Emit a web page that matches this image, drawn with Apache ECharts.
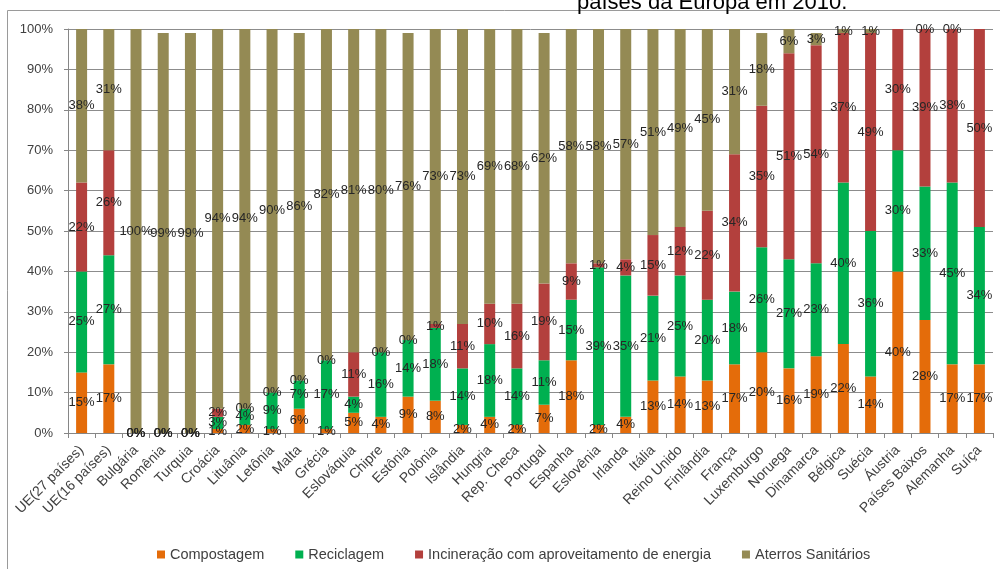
<!DOCTYPE html>
<html>
<head>
<meta charset="utf-8">
<script src="https://cdn.jsdelivr.net/npm/echarts@6/dist/echarts.min.js"></script>
<style>
  html, body { margin: 0; padding: 0; background: #fff; }
  #chart { width: 1000px; height: 569px; }
</style>
</head>
<body>
<div id="chart"></div>
<script>
// Destino dos resíduos urbanos por país (% do total)
const paises = [
  'UE(27 países)', 'UE(16 países)', 'Bulgária', 'Romênia', 'Turquia', 'Croácia',
  'Lituânia', 'Letônia', 'Malta', 'Grécia', 'Eslováquia', 'Chipre', 'Estônia',
  'Polônia', 'Islândia', 'Hungria', 'Rep. Checa', 'Portugal', 'Espanha',
  'Eslovênia', 'Irlanda', 'Itália', 'Reino Unido', 'Finlândia', 'França',
  'Luxemburgo', 'Noruega', 'Dinamarca', 'Bélgica', 'Suécia', 'Áustria',
  'Países Baixos', 'Alemanha', 'Suíça'
];
const compostagem = [15, 17, 0, 0, 0, 1, 2, 1, 6, 1, 5, 4, 9, 8, 2, 4, 2, 7, 18, 2, 4, 13, 14, 13, 17, 20, 16, 19, 22, 14, 40, 28, 17, 17];
const reciclagem  = [25, 27, 0, 0, 0, 3, 4, 9, 7, 17, 4, 16, 14, 18, 14, 18, 14, 11, 15, 39, 35, 21, 25, 20, 18, 26, 27, 23, 40, 36, 30, 33, 45, 34];
const incineracao = [22, 26, 0, 0, 0, 2, 0, 0, 0, 0, 11, 0, 0, 1, 11, 10, 16, 19, 9, 1, 4, 15, 12, 22, 34, 35, 51, 54, 37, 49, 30, 39, 38, 50];
const aterros     = [38, 31, 100, 99, 99, 94, 94, 90, 86, 82, 81, 80, 76, 73, 73, 69, 68, 62, 58, 58, 57, 51, 49, 45, 31, 18, 6, 3, 1, 1, null, 0, 0, null];
const yTicks = [0, 10, 20, 30, 40, 50, 60, 70, 80, 90, 100];

const FONT = 'Liberation Sans, Arial, sans-serif';
const TXT = '#404040';

function serie(nome, dados, cor) {
  return {
    name: nome,
    type: 'bar',
    stack: 'total',
    barWidth: 11,
    data: dados,
    itemStyle: { color: cor },
    label: {
      show: true,
      position: 'inside',
      formatter: p => (p.value == null ? '' : p.value + '%'),
      color: '#262626',
      fontFamily: FONT,
      fontSize: 13
    },
    emphasis: { disabled: true }
  };
}

const chart = echarts.init(document.getElementById('chart'), null, { renderer: 'canvas' });
chart.setOption({
  animation: false,
  backgroundColor: '#ffffff',
  title: {
    text: 'países da Europa em 2010.',
    left: 572,
    top: -13,
    textStyle: { fontFamily: FONT, fontSize: 22, fontWeight: 'normal', color: '#000' }
  },
  graphic: [{
    type: 'rect',
    shape: { x: 7.5, y: 10.5, width: 1010, height: 600 },
    style: { fill: 'none', stroke: '#9a9a9a', lineWidth: 1 },
    silent: true
  }],
  grid: { left: 68, right: 7, top: 29, bottom: 136 },
  legend: {
    top: 542,
    left: 152,
    itemWidth: 8,
    itemHeight: 8,
    itemGap: 31,
    icon: 'rect',
    textStyle: { fontFamily: FONT, fontSize: 14.5, color: TXT },
    data: ['Compostagem', 'Reciclagem', 'Incineração com aproveitamento de energia', 'Aterros Sanitários']
  },
  xAxis: {
    type: 'category',
    data: paises,
    boundaryGap: true,
    axisLine: { show: true, lineStyle: { color: '#868686' } },
    axisTick: { show: true, length: 5, alignWithLabel: false, lineStyle: { color: '#868686' } },
    axisLabel: {
      interval: 0,
      rotate: 45,
      margin: 15,
      fontFamily: FONT,
      fontSize: 14,
      color: TXT
    }
  },
  yAxis: {
    type: 'value',
    min: yTicks[0],
    max: yTicks[yTicks.length - 1],
    interval: 10,
    axisLine: { show: true, lineStyle: { color: '#868686' } },
    axisTick: { show: true, length: 4, lineStyle: { color: '#868686' } },
    splitLine: { show: true, lineStyle: { color: '#8c8c8c', width: 1 } },
    axisLabel: {
      formatter: v => v + '%',
      margin: 15,
      fontFamily: FONT,
      fontSize: 13,
      color: TXT
    }
  },
  series: [
    serie('Compostagem', compostagem, '#E46C0A'),
    serie('Reciclagem', reciclagem, '#00B050'),
    serie('Incineração com aproveitamento de energia', incineracao, '#B3403D'),
    serie('Aterros Sanitários', aterros, '#948A54')
  ]
});
</script>
</body>
</html>
